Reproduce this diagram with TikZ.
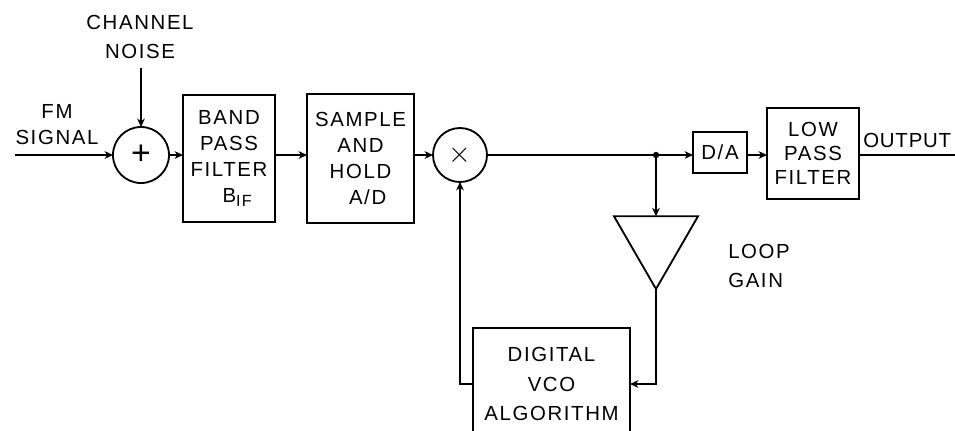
\documentclass[tikz,border=0pt]{standalone}
\usepackage{fontspec}
\setmainfont{Liberation Sans}[LetterSpace=8]
\usetikzlibrary{arrows.meta,shapes.geometric}
\tikzset{
  blk/.style={draw, line width=1.3pt, align=center, inner sep=0pt, outer sep=0pt},
  junc/.style={circle, fill, inner sep=0pt, minimum size=4.5pt},
  flow/.style={line width=1.2pt, -{Stealth[length=6pt,width=5.5pt]}},
  wire/.style={line width=1.2pt},
  lbl/.style={align=center, inner sep=0pt}
}

\begin{document}
\begin{tikzpicture}[x=0.025cm, y=-0.025cm, font=\fontsize{14.5}{18.5}\selectfont]
\clip (0,0) rectangle (955,430);
\node[blk, circle, minimum size=1.4cm] (adder) at (141,155) {\fontsize{24}{24}\selectfont +};
\node[blk, minimum width=2.3cm, minimum height=3.175cm] (bpf) at (229,158.5)
  {BAND\\PASS\\FILTER\\\hspace*{0.8em}B\raisebox{-0.45ex}{\fontsize{11.5}{11.5}\selectfont IF}};
\node[blk, minimum width=2.675cm, minimum height=3.225cm] (sah) at (360.5,158.5)
  {SAMPLE\\AND\\HOLD\\\hspace*{0.7em}A/D};
\node[blk, circle, minimum size=1.35cm] (mult) at (460,155) {\fontsize{22}{22}\selectfont$\times$};
\node[blk, minimum width=1.35cm, minimum height=1.025cm] (da) at (720,152.5) {D/A};
\node[blk, minimum width=2.3cm, minimum height=2.275cm, font=\fontsize{14.5}{17}\selectfont] (lpf) at (813,153.5)
  {LOW\\PASS\\FILTER};
\node[blk, minimum width=3.925cm, minimum height=2.8cm, font=\fontsize{14.5}{21}\selectfont] (vco) at (551.5,384)
  {DIGITAL\\VCO\\ALGORITHM};
\node[blk, regular polygon, regular polygon sides=3, regular polygon rotate=180, minimum size=2.425cm] (gain) at (656,240.5) {};

\node[lbl, font=\fontsize{14.5}{21}\selectfont] (noise) at (140,37) {CHANNEL\\NOISE};
\node[lbl] (fm) at (57,125) {FM\\SIGNAL};
\node[lbl, align=left, anchor=west, font=\fontsize{14.5}{20}\selectfont] (loop) at (728,266) {LOOP\\GAIN};
\node[lbl, anchor=west] (out) at (863,140) {\addfontfeature{LetterSpace=4}OUTPUT};

\coordinate (in) at (15,155);
\coordinate (noisein) at (141,68);
\coordinate (split) at (656,155);
\coordinate (outend) at (960,155);

\draw[flow] (in) -- (adder.west);
\draw[flow] (noisein) -- (adder.north);
\draw[flow] (adder.east) -- (adder.east -| bpf.west);
\draw[flow] (adder.east -| bpf.east) -- (adder.east -| sah.west);
\draw[flow] (adder.east -| sah.east) -- (mult.west);
\draw[wire] (mult.east) -- (split);
\draw[flow] (split) -- (split -| da.west);
\draw[flow] (split -| da.east) -- (split -| lpf.west);
\draw[wire] (split -| lpf.east) -- (outend);
\draw[flow] (split) -- (split |- gain.north);
\draw[flow] (gain.corner 1) |- (vco.east);
\draw[flow] (vco.west) -| (mult.south);
\node[junc] at (split) {};
\end{tikzpicture}
\end{document}
